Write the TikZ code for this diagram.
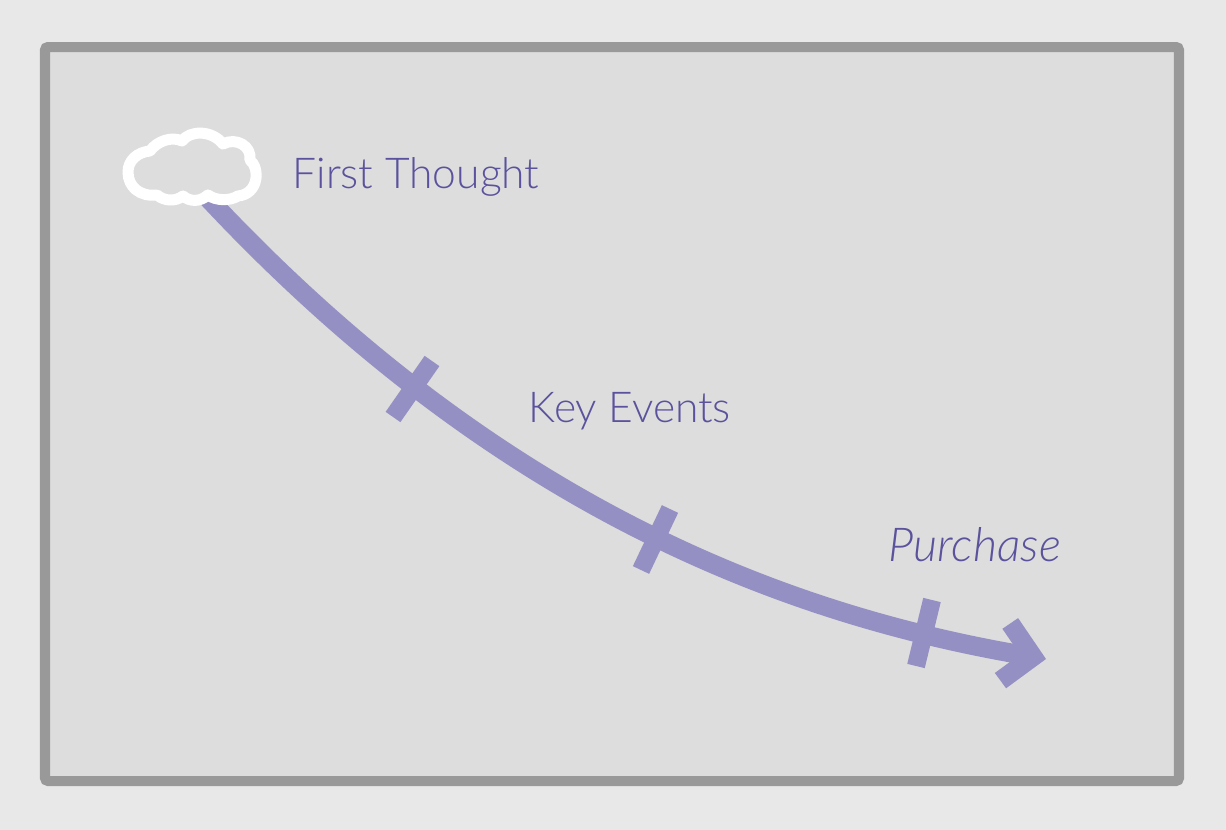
\documentclass[tikz,border=0pt]{standalone}
\usepackage{fontspec}
\setmainfont{Lato}[UprightFont=* Light, ItalicFont=* Light Italic]
\usetikzlibrary{arrows.meta}
\definecolor{pagegrey}{HTML}{E8E8E8}
\definecolor{panelgrey}{HTML}{DDDDDD}
\definecolor{framegrey}{HTML}{999999}
\definecolor{journey}{HTML}{9590C4}
\definecolor{labelink}{HTML}{5A529C}
\begin{document}
\begin{tikzpicture}[
    x=0.01cm, y=-0.01cm,
    frame/.style={draw=framegrey, fill=panelgrey, line width=0.1cm, rounded corners=0.03cm},
    path line/.style={draw=journey, line width=0.19cm},
    tick line/.style={draw=journey, line width=0.18cm},
    cloud line/.style={draw=white, fill=panelgrey, line width=0.11cm, line join=round},
    label/.style={anchor=base west, text=labelink, font=\fontsize{12.1}{15}\selectfont, inner sep=0pt}
  ]
    \useasboundingbox (0,0) rectangle (1226,830);
    % Background
    \fill[pagegrey] (0,0) rectangle (1226,830);
    \draw[frame] (45,47) rectangle (1179,781);

    % Journey
    \coordinate (start) at (205,195);
    \coordinate (end) at (1046,659);
    \draw[path line, -{Straight Barb[length=0.28cm, width=0.58cm, line width=0.19cm]}] (start) .. controls (480,490) and (760,610) .. (end);

    % Ticks
    \coordinate (tick1a) at (432,361);
    \coordinate (tick1b) at (393,417);
    \coordinate (tick2a) at (670,509);
    \coordinate (tick2b) at (641,570);
    \coordinate (tick3a) at (932,600);
    \coordinate (tick3b) at (916,666);
    \draw[tick line] (tick1a) -- (tick1b);
    \draw[tick line] (tick2a) -- (tick2b);
    \draw[tick line] (tick3a) -- (tick3b);

    % Cloud
    \draw[cloud line] (128,172)
      .. controls (128,160) and (138,152) .. (150,151)
      .. controls (157,141) and (172,136) .. (182,141)
      .. controls (190,130) and (212,130) .. (223,144)
      .. controls (236,137) and (252,146) .. (250,160)
      .. controls (260,168) and (259,194) .. (238,196)
      .. controls (230,201) and (216,201) .. (208,195)
      .. controls (200,202) and (190,202) .. (183,196)
      .. controls (175,202) and (164,201) .. (157,195)
      .. controls (140,197) and (128,187) .. (128,172) -- cycle;

    % Labels
    \node[label] (first) at (292,188) {First Thought};
    \node[label] (key) at (528,422) {Key Events};
    \node[label, font=\fontsize{13.3}{15}\selectfont\itshape] (purchase) at (888,561) {Purchase};
  \end{tikzpicture}
\end{document}
